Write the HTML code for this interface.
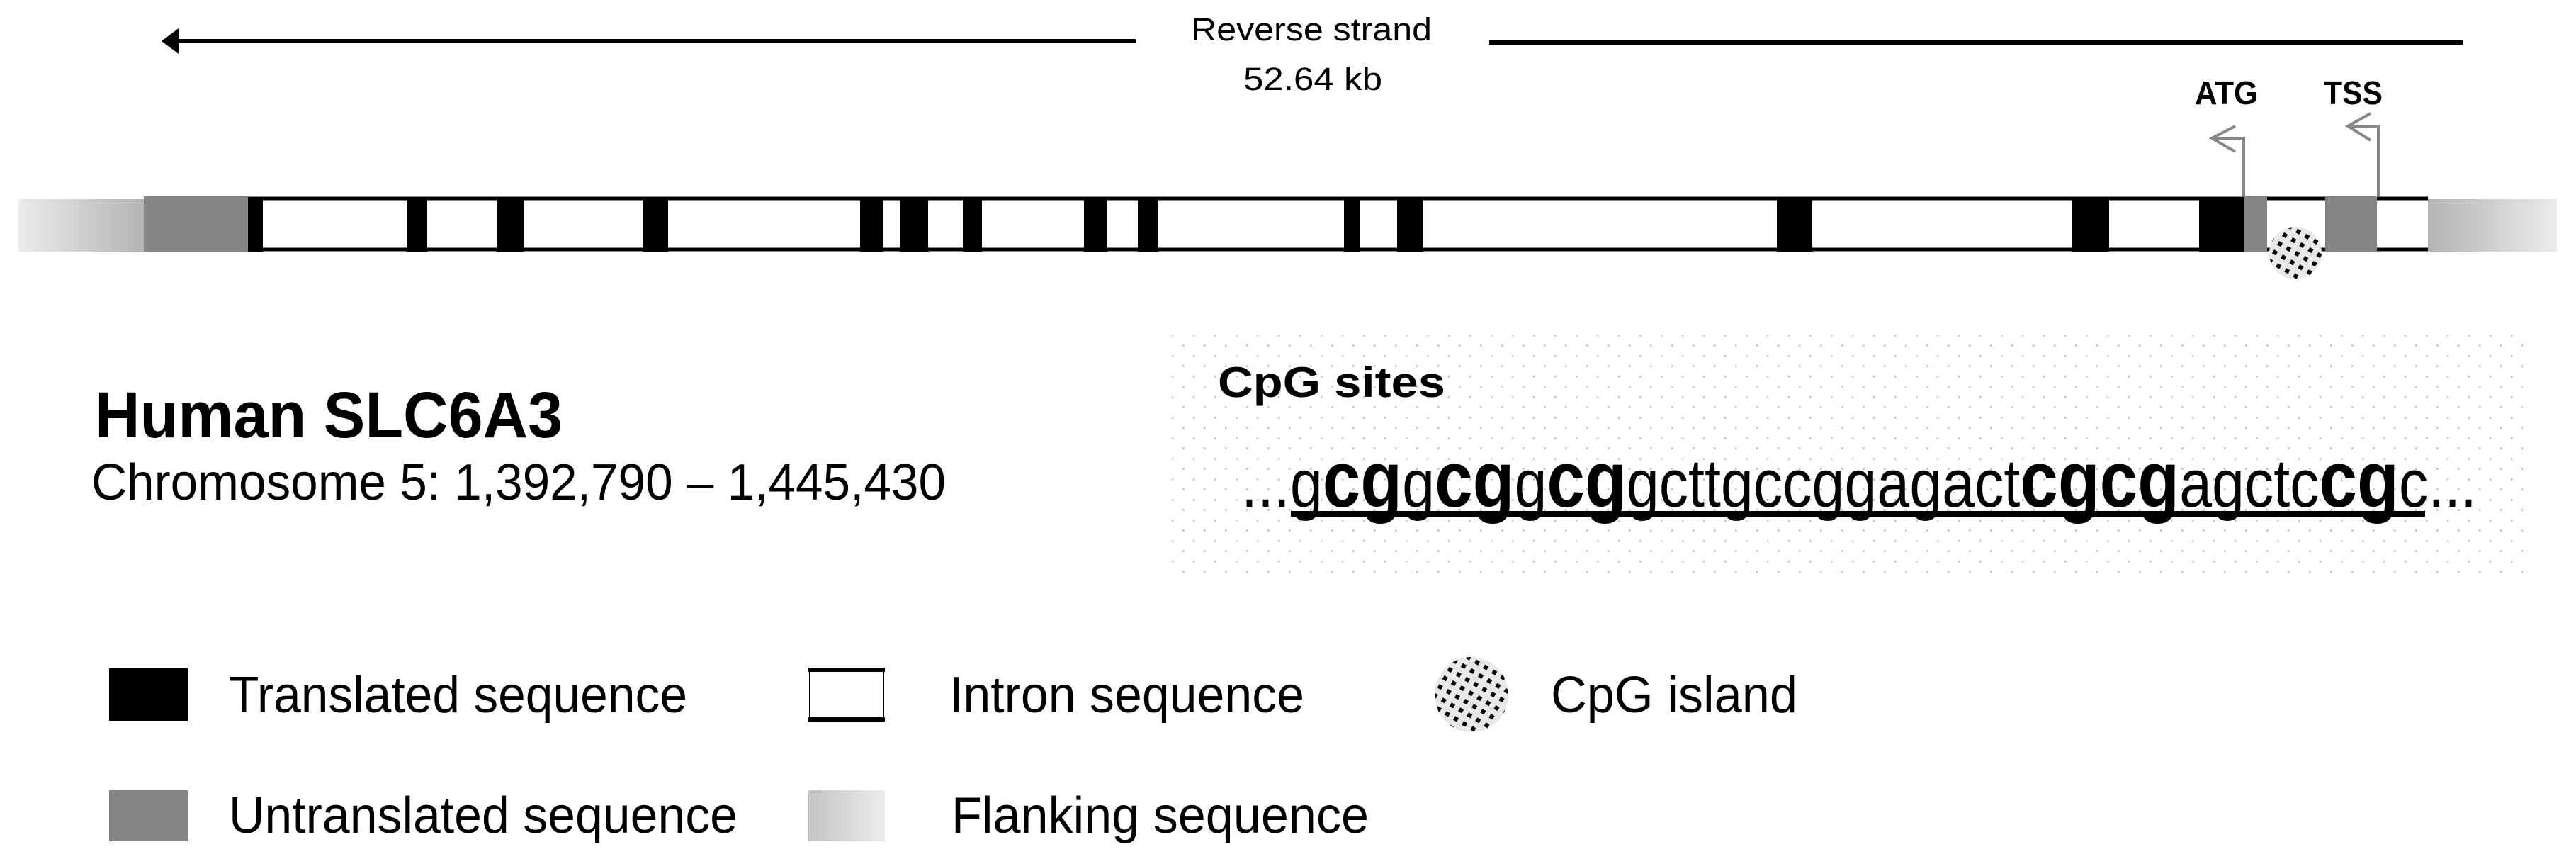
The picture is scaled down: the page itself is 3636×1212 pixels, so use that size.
<!DOCTYPE html>
<html><head><meta charset="utf-8"><style>html,body{margin:0;padding:0;background:#fff}svg{display:block}</style></head>
<body>
<svg width="3636" height="1212" viewBox="0 0 3636 1212" xmlns="http://www.w3.org/2000/svg" font-family="Liberation Sans, sans-serif">
<defs>
<linearGradient id="fl" x1="0" x2="1" y1="0" y2="0"><stop offset="0" stop-color="#ececec"/><stop offset="1" stop-color="#b4b4b4"/></linearGradient>
<linearGradient id="fr" x1="0" x2="1" y1="0" y2="0"><stop offset="0" stop-color="#b4b4b4"/><stop offset="1" stop-color="#ececec"/></linearGradient>
<linearGradient id="fleg" x1="0" x2="1" y1="0" y2="0"><stop offset="0" stop-color="#c4c4c4"/><stop offset="1" stop-color="#ececec"/></linearGradient>
<pattern id="bgdots" width="30" height="29" patternUnits="userSpaceOnUse" x="1652" y="470">
<rect x="2" y="2" width="2.5" height="3" fill="#c4c4c4"/><rect x="17" y="16" width="2.5" height="3" fill="#c4c4c4"/>
</pattern>
<pattern id="cpg" width="14" height="14" patternUnits="userSpaceOnUse" patternTransform="rotate(30)">
<rect width="14" height="14" fill="#e8e8e8"/><rect x="2" y="2" width="6" height="6" fill="#000"/>
</pattern>
</defs>

<line x1="250" y1="58" x2="1603" y2="58" stroke="#000" stroke-width="6"/>
<polygon points="228,58 252,40 252,76" fill="#000"/>
<line x1="2102" y1="60" x2="3476" y2="60" stroke="#000" stroke-width="6"/>
<text x="1851" y="57" font-size="45" text-anchor="middle" textLength="340" lengthAdjust="spacingAndGlyphs">Reverse strand</text>
<text x="1853" y="127" font-size="45" text-anchor="middle" textLength="196" lengthAdjust="spacingAndGlyphs">52.64 kb</text>

<rect x="26" y="281" width="177" height="74" fill="url(#fl)"/>
<rect x="3427" y="281" width="182" height="74" fill="url(#fr)"/>
<rect x="203" y="280" width="3224" height="72" fill="#fff"/>
<line x1="203" y1="280" x2="3427" y2="280" stroke="#000" stroke-width="5"/>
<line x1="203" y1="352" x2="3427" y2="352" stroke="#000" stroke-width="5"/>
<rect x="203" y="278" width="147" height="77" fill="#858585"/>
<g fill="#000">
<rect x="350" y="278" width="21" height="77"/>
<rect x="574" y="278" width="29" height="77"/>
<rect x="701" y="278" width="38" height="77"/>
<rect x="907" y="278" width="36" height="77"/>
<rect x="1214" y="278" width="32" height="77"/>
<rect x="1270" y="278" width="40" height="77"/>
<rect x="1359" y="278" width="27" height="77"/>
<rect x="1530" y="278" width="33" height="77"/>
<rect x="1606" y="278" width="29" height="77"/>
<rect x="1897" y="278" width="23" height="77"/>
<rect x="1972" y="278" width="37" height="77"/>
<rect x="2508" y="278" width="50" height="77"/>
<rect x="2925" y="278" width="52" height="77"/>
<rect x="3104" y="278" width="64" height="77"/>
</g>
<rect x="3168" y="278" width="32" height="77" fill="#858585"/>
<rect x="3282" y="278" width="73" height="77" fill="#858585"/>
<circle cx="3240" cy="357" r="37" fill="url(#cpg)"/>

<g stroke="#888" stroke-width="4" fill="none">
<polyline points="3167,278 3167,195 3122,195"/>
<polyline points="3155,178 3122,195 3155,214"/>
<polyline points="3357,278 3357,178 3314,178"/>
<polyline points="3346,160 3314,178 3346,198"/>
</g>
<text x="3098" y="147" font-size="46" font-weight="bold" textLength="89" lengthAdjust="spacingAndGlyphs">ATG</text>
<text x="3280" y="147" font-size="46" font-weight="bold" textLength="83" lengthAdjust="spacingAndGlyphs">TSS</text>

<text x="134" y="617" font-size="92" font-weight="bold" textLength="660" lengthAdjust="spacingAndGlyphs">Human SLC6A3</text>
<text x="129" y="705" font-size="72" textLength="1206" lengthAdjust="spacingAndGlyphs">Chromosome 5: 1,392,790 – 1,445,430</text>

<rect x="1652" y="470" width="1909" height="343" fill="url(#bgdots)"/>
<text x="1719" y="560" font-size="60" font-weight="bold" textLength="321" lengthAdjust="spacingAndGlyphs">CpG sites</text>
<line x1="1822" y1="725" x2="3423" y2="725" stroke="#000" stroke-width="8"/>
<text x="1752" y="715" font-size="96" textLength="1744" lengthAdjust="spacingAndGlyphs">...g<tspan font-weight="bold" font-size="112">cg</tspan>g<tspan font-weight="bold" font-size="112">cg</tspan>g<tspan font-weight="bold" font-size="112">cg</tspan>gcttgccggagact<tspan font-weight="bold" font-size="112">cgcg</tspan>agctc<tspan font-weight="bold" font-size="112">cg</tspan>c...</text>

<rect x="154" y="943" width="111" height="74" fill="#000"/>
<text x="323" y="1005" font-size="72" textLength="647" lengthAdjust="spacingAndGlyphs">Translated sequence</text>
<rect x="1143" y="945" width="104" height="70" fill="#fff" stroke="#000" stroke-width="2"/>
<line x1="1141" y1="945" x2="1249" y2="945" stroke="#000" stroke-width="6"/>
<line x1="1141" y1="1015" x2="1249" y2="1015" stroke="#000" stroke-width="6"/>
<text x="1340" y="1005" font-size="72" textLength="501" lengthAdjust="spacingAndGlyphs">Intron sequence</text>
<ellipse cx="2077" cy="980" rx="52" ry="53" fill="url(#cpg)"/>
<text x="2189" y="1005" font-size="72" textLength="348" lengthAdjust="spacingAndGlyphs">CpG island</text>
<rect x="154" y="1115" width="111" height="72" fill="#858585"/>
<text x="323" y="1175" font-size="72" textLength="718" lengthAdjust="spacingAndGlyphs">Untranslated sequence</text>
<rect x="1141" y="1115" width="108" height="72" fill="url(#fleg)"/>
<text x="1343" y="1175" font-size="72" textLength="589" lengthAdjust="spacingAndGlyphs">Flanking sequence</text>
</svg>
</body></html>
